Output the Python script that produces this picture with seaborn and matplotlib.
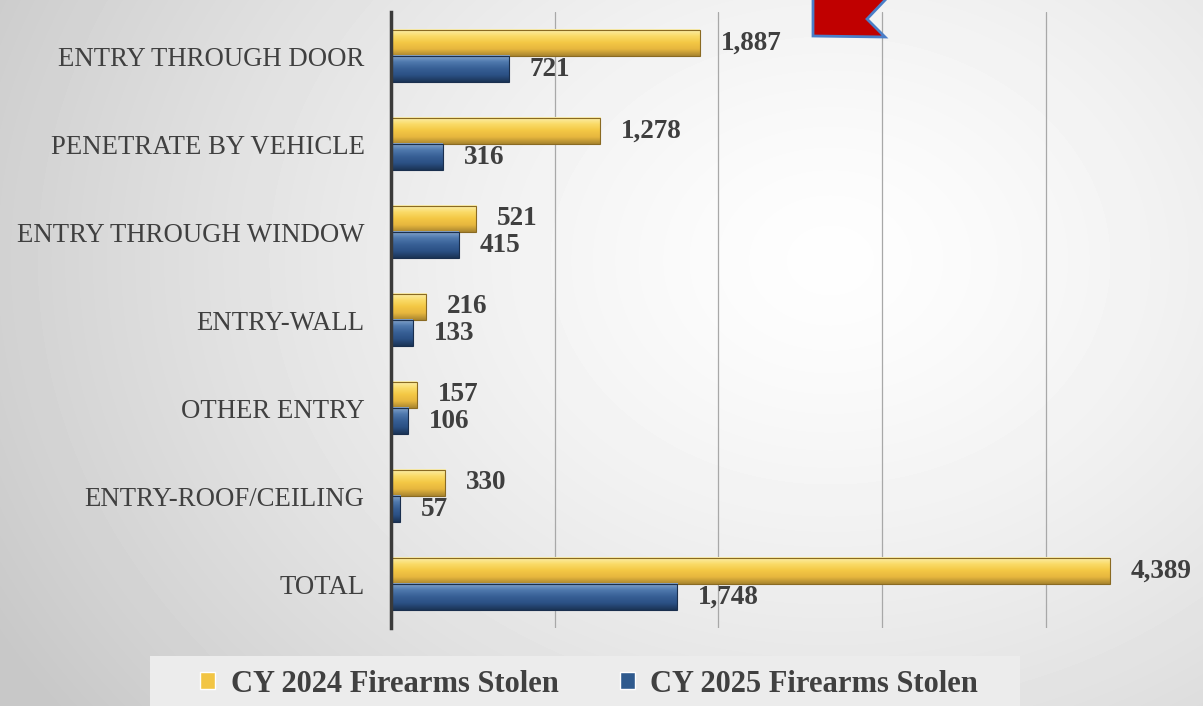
import numpy as np
import pandas as pd
import seaborn as sns
import matplotlib.pyplot as plt
from matplotlib.colors import LinearSegmentedColormap
from matplotlib.patches import Polygon, Rectangle

# Chart data
categories = ['ENTRY THROUGH DOOR', 'PENETRATE BY VEHICLE', 'ENTRY THROUGH WINDOW',
              'ENTRY-WALL', 'OTHER ENTRY', 'ENTRY-ROOF/CEILING', 'TOTAL']
stolen_2024 = [1887, 1278, 521, 216, 157, 330, 4389]
stolen_2025 = [721, 316, 415, 133, 106, 57, 1748]
series = ['CY 2024 Firearms Stolen', 'CY 2025 Firearms Stolen']

df = pd.DataFrame({
    'Category': categories * 2,
    'Count': stolen_2024 + stolen_2025,
    'Series': [series[0]] * len(categories) + [series[1]] * len(categories),
})

sns.set_style('white')
plt.rcParams['font.family'] = ['Liberation Serif', 'DejaVu Serif']

W, H = 1203, 706
fig = plt.figure(figsize=(W / 100, H / 100), dpi=100)

# Soft radial background
bg = fig.add_axes([0, 0, 1, 1], zorder=-1)
yy, xx = np.mgrid[0:H, 0:W]
r = np.hypot(xx - 830, (yy - 260) * 1.25)
shade = 0.995 - 0.21 * np.clip(r / 950, 0, 1) ** 1.4
bg.imshow(shade, cmap='gray', vmin=0, vmax=1, extent=(0, W, H, 0), aspect='auto')
bg.set_xlim(0, W)
bg.set_ylim(H, 0)
bg.axis('off')
# legend panel
bg.add_patch(Rectangle((150, 656), 870, 60, facecolor='#ececec', edgecolor='none'))

# Main axes
ax = fig.add_axes([391 / W, 1 - 628 / H, (W - 391) / W, 616 / H])
ax.patch.set_alpha(0)

palette = {series[0]: '#f2c544', series[1]: '#2f5a8e'}
sns.barplot(data=df, y='Category', x='Count', hue='Series', orient='h',
            palette=palette, width=0.6, saturation=1, ax=ax)

handles = ax.get_legend().legend_handles
ax.get_legend().remove()

# Bevel-like shading on each bar
grads = [
    LinearSegmentedColormap.from_list('y', ['#fcefb0', '#fadb68', '#f4c744', '#e6b63e', '#a9852f']),
    LinearSegmentedColormap.from_list('b', ['#86a7cf', '#4f79ad', '#375f95', '#2b5084', '#1b3456']),
]
edges = ['#8a6a22', '#1a2f4e']
profile = np.linspace(0, 1, 64).reshape(-1, 1)
for cont, cmap, ec in zip(ax.containers, grads, edges):
    for bar in cont:
        x0, y0 = bar.get_x(), bar.get_y()
        w, h = bar.get_width(), bar.get_height()
        ax.imshow(profile, cmap=cmap, extent=(x0, x0 + w, y0, y0 + h),
                  origin='lower', aspect='auto', zorder=bar.get_zorder() + 0.1)
        bar.set_edgecolor(ec)
        bar.set_linewidth(0.8)
        bar.set_zorder(bar.get_zorder() + 0.2)
        bar.set_facecolor('none')
    ax.bar_label(cont, fmt='{:,.0f}', padding=15, fontsize=19.5, fontweight='bold',
                 color='#3f3f3f')

ax.set_xlim(0, 4960)
ax.set_ylim(6.5, -0.5)
ax.set_xticks([1000, 2000, 3000, 4000])
ax.set_xticklabels([])
ax.grid(axis='x', color='#a8a8a8', lw=0.9)
ax.set_axisbelow(True)
ax.tick_params(axis='both', length=0)
ax.tick_params(axis='y', pad=19, labelsize=19.3, labelcolor='#404040')
ax.set_xlabel('')
ax.set_ylabel('')
for side in ['top', 'right', 'bottom']:
    ax.spines[side].set_visible(False)
ax.spines['left'].set_color('#3a3a3a')
ax.spines['left'].set_linewidth(2.5)
ax.spines['left'].set_zorder(5)

fig.legend(handles, series, loc='center', bbox_to_anchor=(589 / W, 1 - 684 / H),
           ncol=2, frameon=False, prop=dict(weight='bold', size=22),
           handlelength=0.5, handleheight=0.5, handletextpad=0.5,
           columnspacing=2.0, labelcolor='#404040')

# Red callout arrow at top
pts = [(813, -2), (813, 36), (885, 37), (867, 19), (887, -2)]
arrow = Polygon([(x / W, 1 - y / H) for x, y in pts], closed=True,
                transform=fig.transFigure, facecolor='#c00000',
                edgecolor='#4a7ec8', lw=2, zorder=10)
fig.add_artist(arrow)

fig.savefig('out.png', dpi=100)
